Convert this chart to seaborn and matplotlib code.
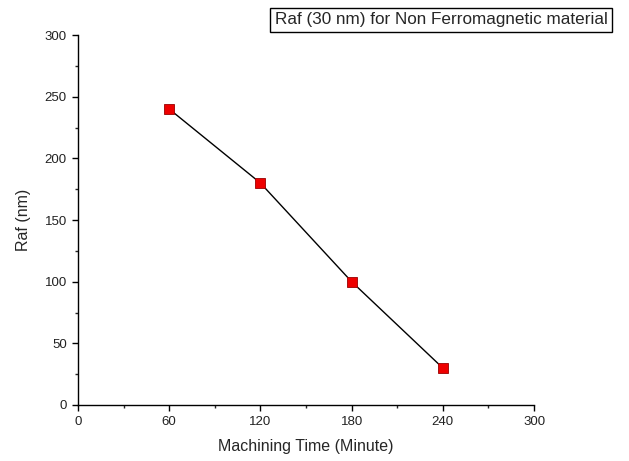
import matplotlib
matplotlib.use("Agg")
import matplotlib.pyplot as plt
import seaborn as sns
import pandas as pd
from matplotlib.ticker import MultipleLocator

machining_time = [60, 120, 180, 240]
raf_nm = [240, 180, 100, 30]
x_ticks = [0, 60, 120, 180, 240, 300]
y_ticks = [0, 50, 100, 150, 200, 250, 300]
title_text = "Raf (30 nm) for Non Ferromagnetic material"

sns.set_theme(style="ticks")
plt.rcParams["font.family"] = ["Liberation Sans", "DejaVu Sans"]

df = pd.DataFrame({"time": machining_time, "raf": raf_nm})

fig = plt.figure(figsize=(6.29, 4.61), dpi=100)
ax = fig.add_axes([0.124, 0.1215, 0.725, 0.8025])

sns.lineplot(data=df, x="time", y="raf", ax=ax, color="black", linewidth=1.0,
             marker="s", markersize=6.5, markerfacecolor="#ee0000",
             markeredgecolor="#990000", markeredgewidth=0.6)

ax.set_xlim(0, 300)
ax.set_ylim(0, 300)
ax.set_xticks(x_ticks)
ax.set_yticks(y_ticks)
ax.xaxis.set_minor_locator(MultipleLocator(30))
ax.yaxis.set_minor_locator(MultipleLocator(25))
ax.tick_params(axis="both", which="major", direction="out", length=4, width=1,
               labelsize=9.5, colors="black", pad=4)
ax.tick_params(axis="both", which="minor", direction="out", length=2.5, width=1)
for lab in ax.get_xticklabels() + ax.get_yticklabels():
    lab.set_color("#222222")
sns.despine(ax=ax)
for s in ["left", "bottom"]:
    ax.spines[s].set_color("black")
    ax.spines[s].set_linewidth(1.0)

ax.set_xlabel("Machining Time (Minute)", fontsize=11.5, labelpad=8)
ax.set_ylabel("Raf (nm)", fontsize=11.5, labelpad=10)

fig.text(0.966, 0.957, title_text, ha="right", va="center", fontsize=12.3,
         bbox=dict(boxstyle="square,pad=0.25", facecolor="white",
                   edgecolor="black", linewidth=1.0))

fig.savefig("out.png", dpi=100)
